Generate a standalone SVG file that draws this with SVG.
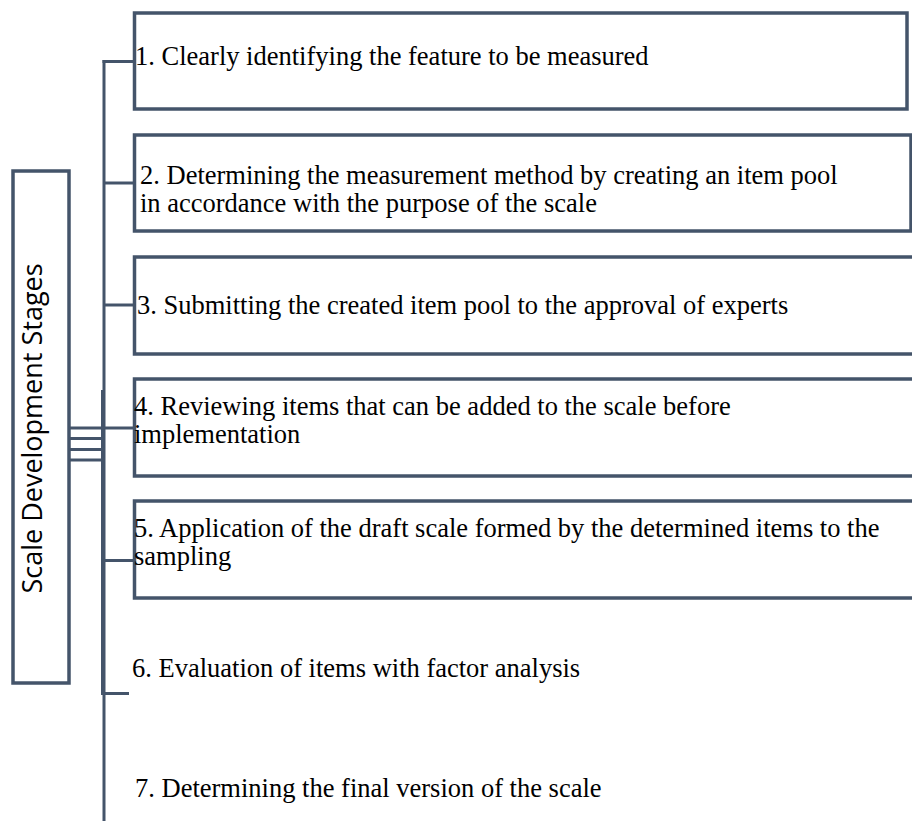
<svg xmlns="http://www.w3.org/2000/svg" width="912" height="821" viewBox="0 0 912 821">
<style>
.box{fill:#ffffff;stroke:#44546a;stroke-width:3.5}
.ln{stroke:#44546a;stroke-width:3;fill:none}
.t{font-family:"Liberation Serif","Times New Roman",serif;font-size:26.5px;fill:#000000}
.lbl{font-family:"Open Sans","Noto Sans",sans-serif;font-size:27px;fill:#000000}
</style>
<rect width="912" height="821" fill="#ffffff"/>
<g id="connectors">
<line class="ln" x1="104" y1="60" x2="104" y2="821"/>
<line class="ln" x1="102.5" y1="390" x2="102.5" y2="694"/>
<line class="ln" x1="102.5" y1="61.5" x2="134" y2="61.5"/>
<line class="ln" x1="104" y1="183" x2="134" y2="183"/>
<line class="ln" x1="104" y1="305" x2="134" y2="305"/>
<line class="ln" x1="69" y1="428" x2="134" y2="428"/>
<line class="ln" x1="69" y1="438.5" x2="104" y2="438.5"/>
<line class="ln" x1="69" y1="449.5" x2="104" y2="449.5"/>
<line class="ln" x1="69" y1="460" x2="104" y2="460"/>
<line class="ln" x1="104" y1="560.5" x2="134" y2="560.5"/>
<line class="ln" x1="101" y1="693.5" x2="129" y2="693.5"/>
</g>
<g id="root">
<rect class="box" x="13" y="171" width="56" height="512"/>
<text class="lbl" transform="translate(42,428.5) rotate(-90)" text-anchor="middle">Scale Development Stages</text>
</g>
<g id="node1">
<rect class="box" x="134.5" y="13" width="772.5" height="96"/>
<text class="t" x="135" y="65">1. Clearly identifying the feature to be measured</text>
</g>
<g id="node2">
<rect class="box" x="134.5" y="135" width="776.5" height="96"/>
<text class="t" x="140" y="184">2. Determining the measurement method by creating an item pool</text>
<text class="t" x="140" y="212">in accordance with the purpose of the scale</text>
</g>
<g id="node3">
<rect class="box" x="134.5" y="257" width="782" height="97"/>
<text class="t" x="137" y="314">3. Submitting the created item pool to the approval of experts</text>
</g>
<g id="node4">
<rect class="box" x="134.5" y="379" width="782" height="97"/>
<text class="t" x="134" y="415">4. Reviewing items that can be added to the scale before</text>
<text class="t" x="134" y="443">implementation</text>
</g>
<g id="node5">
<rect class="box" x="134.5" y="501" width="782" height="97"/>
<text class="t" x="134" y="537">5. Application of the draft scale formed by the determined items to the</text>
<text class="t" x="134" y="565">sampling</text>
</g>
<g id="node6">
<text class="t" x="132" y="677">6. Evaluation of items with factor analysis</text>
</g>
<g id="node7">
<text class="t" x="135" y="797">7. Determining the final version of the scale</text>
</g>
</svg>
